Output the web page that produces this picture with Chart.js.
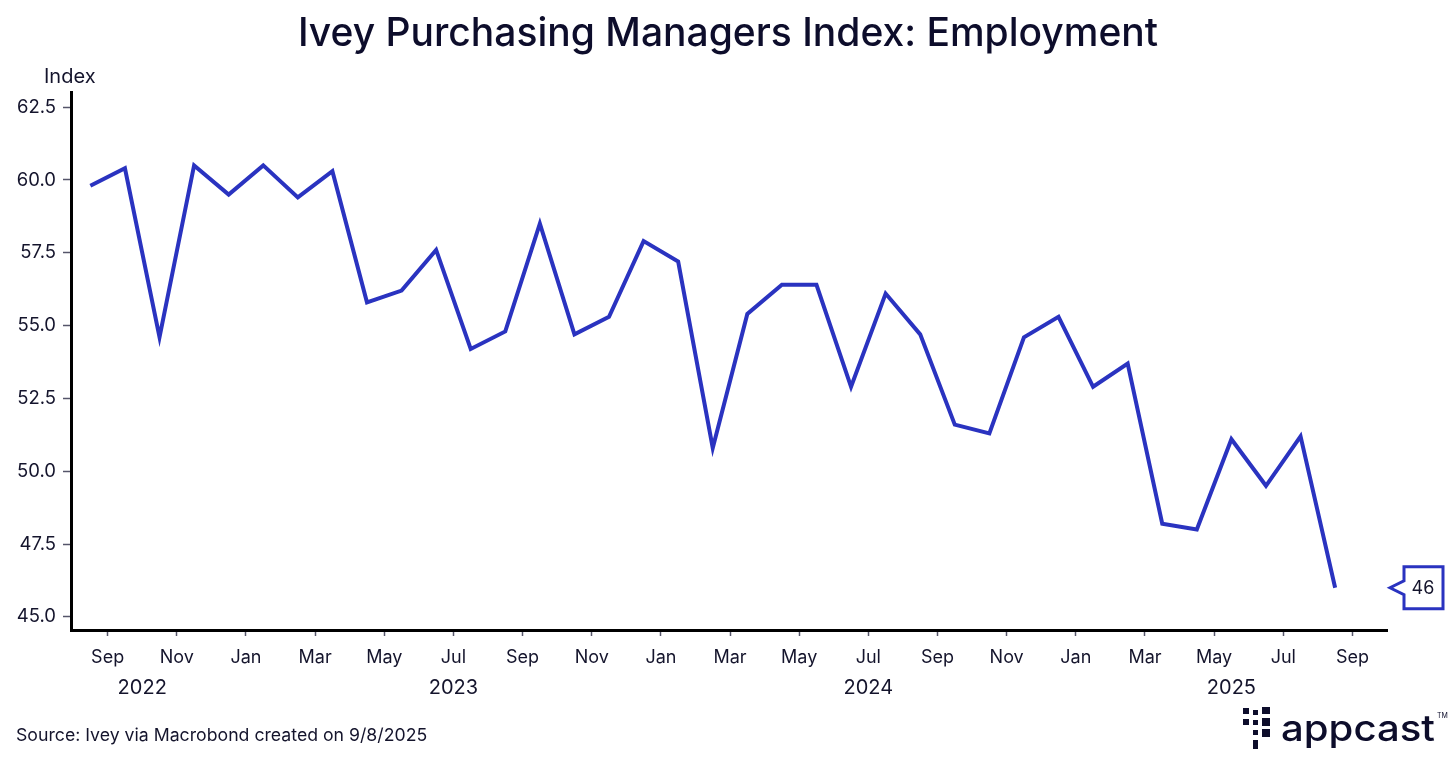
<!DOCTYPE html>
<html>
<head>
<meta charset="utf-8">
<script src="https://cdn.jsdelivr.net/npm/chart.js@4"></script>
<style>
html,body{margin:0;padding:0;background:#fff;}
#wrap{width:1456px;height:763px;}
</style>
</head>
<body>
<div id="wrap"><canvas id="c" width="1456" height="763"></canvas></div>
<script>
// ---- data ----
const months = ["2022-08","2022-09","2022-10","2022-11","2022-12",
  "2023-01","2023-02","2023-03","2023-04","2023-05","2023-06","2023-07","2023-08","2023-09","2023-10","2023-11","2023-12",
  "2024-01","2024-02","2024-03","2024-04","2024-05","2024-06","2024-07","2024-08","2024-09","2024-10","2024-11","2024-12",
  "2025-01","2025-02","2025-03","2025-04","2025-05","2025-06","2025-07","2025-08"];
const employment = [59.8,60.4,54.6,60.5,59.5,
  60.5,59.4,60.3,55.8,56.2,57.6,54.2,54.8,58.5,54.7,55.3,57.9,
  57.2,50.8,55.4,56.4,56.4,52.9,56.1,54.7,51.6,51.3,54.6,55.3,
  52.9,53.7,48.2,48.0,51.1,49.5,51.2,46.0];
const monthTickLabels = ["Sep","Nov","Jan","Mar","May","Jul","Sep","Nov","Jan","Mar","May","Jul","Sep","Nov","Jan","Mar","May","Jul","Sep"];
const monthTickPos = [1,3,5,7,9,11,13,15,17,19,21,23,25,27,29,31,33,35,37];
const yearLabels = ["2022","2023","2024","2025"];
const yearPos = [2.0,11.0,23.0,33.5];
const yTicks = [45.0,47.5,50.0,52.5,55.0,57.5,60.0,62.5];
const titleText = "Ivey Purchasing Managers Index: Employment";
const sourceText = "Source: Ivey via Macrobond created on 9/8/2025";
const lastLabel = "46";

const TXT = '#14142c';
const LINE = '#2a33c0';
const FONT = 'Inter, "Noto Sans", sans-serif';

const points = employment.map((v,i)=>({x:i+0.5,y:v}));

const extras = {
  id:'extras',
  afterDraw(chart){
    const ctx = chart.ctx;
    ctx.save();
    // title
    ctx.fillStyle = '#0d0d2b';
    ctx.font = '500 39px ' + FONT;
    ctx.textAlign = 'center';
    ctx.textBaseline = 'alphabetic';
    ctx.fillText(titleText, 728, 46);
    // Index label
    ctx.fillStyle = TXT;
    ctx.font = '400 20px ' + FONT;
    ctx.textAlign = 'left';
    ctx.fillText('Index', 44, 83);
    // source
    ctx.font = '400 17.7px ' + FONT;
    ctx.fillText(sourceText, 16, 741);
    // callout
    const ys = chart.scales.y;
    const yv = ys.getPixelForValue(employment[employment.length-1]);
    ctx.strokeStyle = LINE;
    ctx.lineWidth = 3;
    ctx.lineJoin = 'miter';
    ctx.beginPath();
    ctx.moveTo(1404, yv-21);
    ctx.lineTo(1443, yv-21);
    ctx.lineTo(1443, yv+21);
    ctx.lineTo(1404, yv+21);
    ctx.lineTo(1404, yv+7);
    ctx.lineTo(1390, yv);
    ctx.lineTo(1404, yv-7);
    ctx.closePath();
    ctx.fillStyle = '#fff';
    ctx.fill();
    ctx.stroke();
    ctx.fillStyle = TXT;
    ctx.font = '400 18px ' + FONT;
    ctx.textAlign = 'center';
    ctx.textBaseline = 'middle';
    ctx.fillText(lastLabel, 1423, yv+1);
    // logo icon
    ctx.fillStyle = '#0d0d2b';
    const sq = [[1243,708,6,6],[1253,710,5,5],[1262,707,8,7],[1243,719,6,6],[1253,720,5,5],[1262,718,8,8],[1253,730,5,5],[1262,729,8,8],[1253,740,5,9]];
    sq.forEach(s=>ctx.fillRect(s[0],s[1],s[2],s[3]));
    // logo text
    ctx.font = '500 36px ' + FONT;
    ctx.textAlign = 'left';
    ctx.textBaseline = 'alphabetic';
    const w = ctx.measureText('appcast').width;
    ctx.save();
    ctx.translate(1281, 741);
    ctx.scale(154/w, 1);
    ctx.fillText('appcast', 0, 0);
    ctx.restore();
    ctx.font = '400 7px ' + FONT;
    ctx.fillText('TM', 1437, 718);
    ctx.restore();
  }
};

new Chart(document.getElementById('c'), {
  type:'line',
  data:{
    datasets:[{
      data:points,
      borderColor:LINE,
      borderWidth:4,
      pointRadius:0,
      tension:0,
      fill:false,
      borderJoinStyle:'miter'
    }]
  },
  options:{
    responsive:false,
    animation:false,
    devicePixelRatio:1,
    layout:{padding:{top:92,left:0,right:69,bottom:63}},
    plugins:{legend:{display:false},tooltip:{enabled:false},title:{display:false}},
    scales:{
      x:{
        type:'linear', position:'bottom', weight:0,
        min:-0.06, max:38,
        afterBuildTicks(s){ s.ticks = monthTickPos.map(v=>({value:v})); },
        afterFit(s){ s.height = 42; },
        ticks:{
          autoSkip:false, maxRotation:0, minRotation:0,
          color:TXT, font:{family:FONT, size:18},
          padding:11,
          callback(v,i){ return monthTickLabels[i]; }
        },
        grid:{drawOnChartArea:false, drawTicks:true, tickLength:6, tickColor:'#55556a', tickWidth:1.5},
        border:{display:true, color:'#000', width:3}
      },
      x2:{
        type:'linear', position:'bottom', weight:1,
        min:-0.06, max:38,
        afterBuildTicks(s){ s.ticks = yearPos.map(v=>({value:v})); },
        afterFit(s){ s.height = 28; },
        ticks:{
          autoSkip:false, maxRotation:0, minRotation:0,
          color:TXT, font:{family:FONT, size:20},
          padding:4,
          callback(v,i){ return yearLabels[i]; }
        },
        grid:{display:false, drawTicks:false},
        border:{display:false}
      },
      y:{
        type:'linear', position:'left',
        min:44.55, max:63.02,
        afterBuildTicks(s){ s.ticks = yTicks.map(v=>({value:v})); },
        afterFit(s){ s.width = 71; },
        ticks:{
          color:TXT, font:{family:FONT, size:18.5}, padding:7,
          callback(v){ return Number(v).toFixed(1); }
        },
        grid:{drawOnChartArea:false, drawTicks:true, tickLength:8, tickColor:'#55556a', tickWidth:1.5},
        border:{display:true, color:'#000', width:3}
      }
    }
  },
  plugins:[extras]
});
</script>
</body>
</html>
